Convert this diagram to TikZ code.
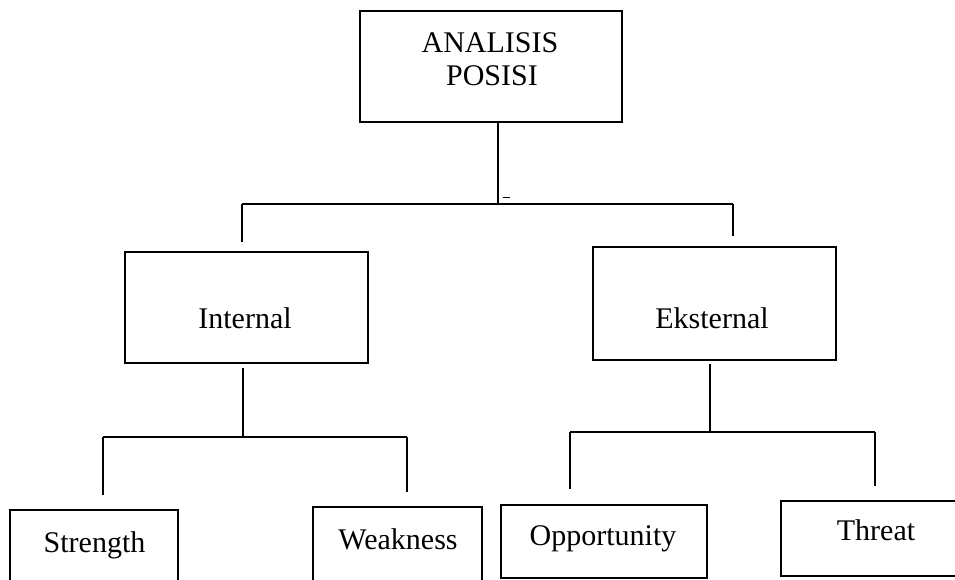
\documentclass[tikz,border=0pt]{standalone}
\usepackage{fontspec}
\setmainfont{Liberation Serif}
\begin{document}
\begin{tikzpicture}[x=1pt,y=-1pt,
  box/.style={draw, line width=1.4pt, inner sep=0pt},
  lbl/.style={font=\fontsize{30}{34}\selectfont, inner sep=0pt, anchor=base},
  link/.style={draw, line width=1.3pt}]
\useasboundingbox (0,0) rectangle (955,580);
\clip (0,0) rectangle (955,580);

% boxes
\node[box, minimum width=262pt, minimum height=111pt] (top)  at (491,66.5)  {};
\node[box, minimum width=243pt, minimum height=111pt] (int)  at (246.5,307.5) {};
\node[box, minimum width=243pt, minimum height=113pt] (ext)  at (714.5,303.5) {};
\node[box, minimum width=168pt, minimum height=80pt]  (str)  at (94,550)    {};
\node[box, minimum width=169pt, minimum height=83pt]  (weak) at (397.5,548.5) {};
\node[box, minimum width=206pt, minimum height=73pt]  (opp)  at (604,541.5) {};
\node[box, minimum width=189pt, minimum height=75pt]  (thr)  at (875.5,538.5) {};

% labels
\node[lbl] (tA) at (490,53)  {ANALISIS};
\node[lbl] (tB) at (492,86)  {POSISI};
\node[lbl] (tI) at (245,328) {Internal};
\node[lbl] (tE) at (712,328) {Eksternal};
\node[lbl] (tS) at (94.5,552) {Strength};
\node[lbl] (tW) at (398,549) {Weakness};
\node[lbl] (tO) at (603,545) {Opportunity};
\node[lbl] (tT) at (876,540) {Threat};

% first level branches
\coordinate (j0) at (498,204);
\coordinate (jL) at (242,204);
\coordinate (jR) at (733,204);
\draw[link] (top.south -| j0) -- (j0);
\draw[link] (jL) -- (jR);
\draw[link] (jL) -- ([yshift=9pt]int.north -| jL);
\draw[link] (jR) -- ([yshift=10pt]ext.north -| jR);
\draw[line width=0.8pt] (503,197) -- (510,197);

% internal branches
\coordinate (k0) at (243,437);
\coordinate (kL) at (103,437);
\coordinate (kR) at (407,437);
\draw[link] ([yshift=-4pt]int.south -| k0) -- (k0);
\draw[link] (kL) -- (kR);
\draw[link] (kL) -- ([yshift=14pt]str.north -| kL);
\draw[link] (kR) -- ([yshift=14pt]weak.north -| kR);

% external branches
\coordinate (m0) at (710,432);
\coordinate (mL) at (570,432);
\coordinate (mR) at (875,432);
\draw[link] ([yshift=-3pt]ext.south -| m0) -- (m0);
\draw[link] (mL) -- (mR);
\draw[link] (mL) -- ([yshift=15pt]opp.north -| mL);
\draw[link] (mR) -- ([yshift=14pt]thr.north -| mR);
\end{tikzpicture}
\end{document}
